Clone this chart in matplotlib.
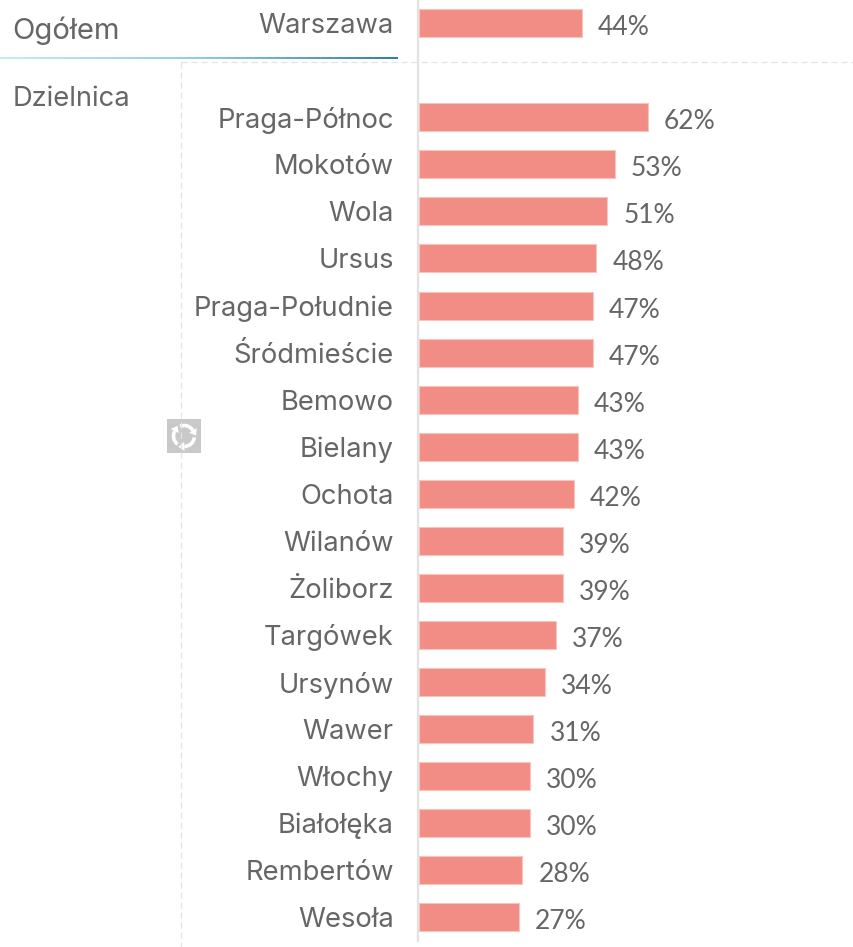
import numpy as np
import matplotlib
matplotlib.use("Agg")
import matplotlib.pyplot as plt
from matplotlib.patches import Rectangle, Arc, Polygon
from matplotlib.colors import LinearSegmentedColormap

# dane
total_label = ["Warszawa"]
total_values = [44]
districts = ["Praga-Północ", "Mokotów", "Wola", "Ursus", "Praga-Południe", "Śródmieście",
             "Bemowo", "Bielany", "Ochota", "Wilanów", "Żoliborz", "Targówek", "Ursynów",
             "Wawer", "Włochy", "Białołęka", "Rembertów", "Wesoła"]
district_values = [62, 53, 51, 48, 47, 47, 43, 43, 42, 39, 39, 37, 34, 31, 30, 30, 28, 27]
group_labels = ["Ogółem", "Dzielnica"]

W, H = 854, 947
X0 = 418.7
PX_PER_PCT = 3.7
Y0 = 117.3
ROW = 47.06

plt.rcParams['font.family'] = ['Lato', 'DejaVu Sans']
TXT = "#666666"
LAB_FONT = ['Inter', 'Open Sans', 'DejaVu Sans']
FS = 19.7

fig = plt.figure(figsize=(W / 100, H / 100), dpi=100)

# warstwa pomocnicza w pikselach (linie, ikonka, naglowki)
deco = fig.add_axes([0, 0, 1, 1])
deco.set_xlim(0, W)
deco.set_ylim(H, 0)
deco.axis("off")

# os z danymi
ax = fig.add_axes([0, 0, 1, 1], facecolor="none")
ax.set_xlim(-X0 / PX_PER_PCT, (W - X0) / PX_PER_PCT)
ax.set_ylim((H - Y0) / ROW, -Y0 / ROW)
ax.axis("off")

# linie
deco.plot([418, 418], [0, 942], color="#e2e2e2", lw=1.6, solid_capstyle="butt")
deco.plot([181, W], [62, 62], color="#e4e4e4", lw=0.9, dashes=(5, 3))
deco.plot([181, 181], [62, H], color="#e4e4e4", lw=0.9, dashes=(5, 3))

grad = LinearSegmentedColormap.from_list("g", ["#c4eeee", "#8fd0d8", "#2f7fa8"])
deco.imshow(np.linspace(0, 1, 256).reshape(1, -1), cmap=grad, aspect="auto",
            extent=(0, 398, 59, 57.5), zorder=2)
deco.set_xlim(0, W)
deco.set_ylim(H, 0)

# ikonka odswiezania
deco.add_patch(Rectangle((167, 419), 34, 34, color="#c9c9c9", lw=0))
cx, cy, r = 184, 436, 10.5
for start in (0, 120, 240):
    deco.add_patch(Arc((cx, cy), 2 * r, 2 * r, theta1=start + 8, theta2=start + 88,
                       color="white", lw=2.6))
    a = np.deg2rad(start + 88)
    px, py = cx + r * np.cos(a), cy + r * np.sin(a)
    tx, ty = -np.sin(a), np.cos(a)
    nx, ny = np.cos(a), np.sin(a)
    deco.add_patch(Polygon([(px + 4.5 * nx, py + 4.5 * ny), (px - 4.5 * nx, py - 4.5 * ny),
                            (px + 6 * tx, py + 6 * ty)], color="white", lw=0))

# slupki
rows = [-2] + list(range(len(districts)))
labels = total_label + districts
values = total_values + district_values
ax.barh(rows, values, height=28 / ROW, left=0, color="#f18d85", edgecolor="#f8c4bf", linewidth=0.8)

for r, lab, v in zip(rows, labels, values):
    ax.annotate(lab, (0, r), xytext=(-25, 0), textcoords="offset pixels", ha="right",
                va="center_baseline", fontsize=FS, color=TXT, family=LAB_FONT)
    ax.annotate("{0}%".format(v), (v, r), xytext=(16, -2), textcoords="offset pixels", ha="left",
                va="center_baseline", fontsize=19, color=TXT)

deco.text(12, 28, group_labels[0], fontsize=21, color=TXT, va="center_baseline", family=LAB_FONT)
deco.text(13, 96, group_labels[1], fontsize=FS, color=TXT, va="center_baseline", family=LAB_FONT)

fig.savefig("out.png", dpi=100)
